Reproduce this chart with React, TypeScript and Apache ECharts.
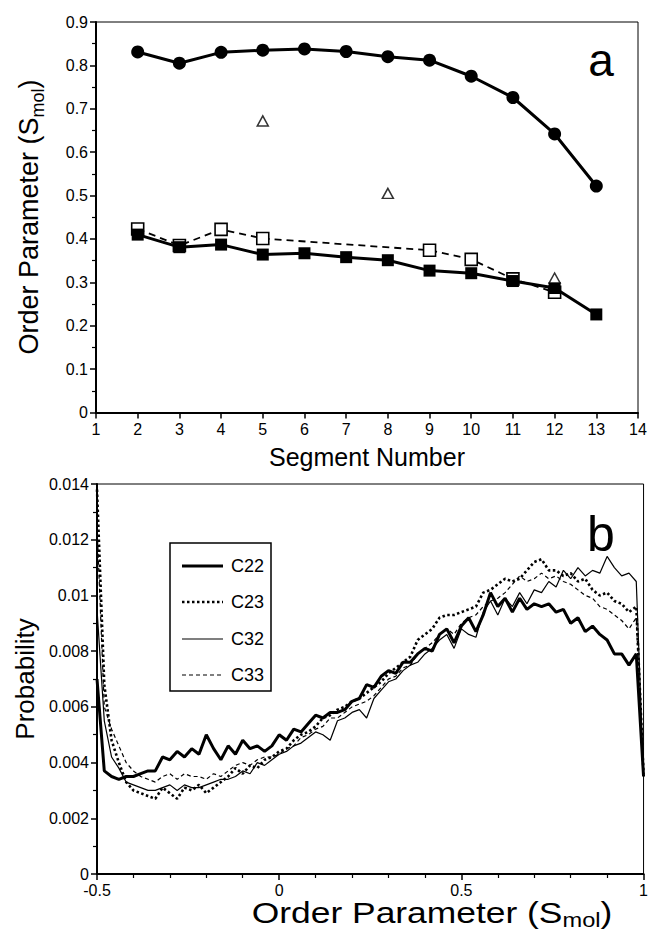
import React, { useEffect, useRef } from "react";
import * as echarts from "echarts";

const FONT = "Liberation Sans, Arial, Helvetica, sans-serif";

// ---- Panel a data ----
const segmentNumbers = [2, 3, 4, 5, 6, 7, 8, 9, 10, 11, 12, 13];
const circleValues = [0.831, 0.805, 0.83, 0.835, 0.838, 0.832, 0.82, 0.812, 0.775, 0.726, 0.642, 0.522];
const filledSquareValues = [0.41, 0.381, 0.387, 0.364, 0.367, 0.358, 0.351, 0.327, 0.321, 0.303, 0.287, 0.226];
const openSquareValues = [0.423, 0.385, 0.422, 0.401, null, null, null, 0.374, 0.353, 0.308, 0.277, null];
const triangleSegments = [5, 8, 12];
const triangleValues = [0.672, 0.505, 0.31];

// ---- Panel b data (probability, in units of 1e-3) ----
const orderBins = [
  -0.5, -0.48, -0.46, -0.44, -0.42, -0.4, -0.38, -0.36, -0.34, -0.32,
  -0.3, -0.28, -0.26, -0.24, -0.22, -0.2, -0.18, -0.16, -0.14, -0.12,
  -0.1, -0.08, -0.06, -0.04, -0.02, 0, 0.02, 0.04, 0.06, 0.08,
  0.1, 0.12, 0.14, 0.16, 0.18, 0.2, 0.22, 0.24, 0.26, 0.28,
  0.3, 0.32, 0.34, 0.36, 0.38, 0.4, 0.42, 0.44, 0.46, 0.48,
  0.5, 0.52, 0.54, 0.56, 0.58, 0.6, 0.62, 0.64, 0.66, 0.68,
  0.7, 0.72, 0.74, 0.76, 0.78, 0.8, 0.82, 0.84, 0.86, 0.88,
  0.9, 0.92, 0.94, 0.96, 0.98, 1.0,
];
const c22 = [
  7.0, 3.7, 3.5, 3.4, 3.5, 3.5, 3.6, 3.7, 3.7, 4.2,
  4.1, 4.4, 4.2, 4.5, 4.3, 5.0, 4.5, 4.1, 4.6, 4.3,
  4.8, 4.5, 4.6, 4.4, 4.6, 5.0, 4.8, 5.2, 5.1, 5.4,
  5.7, 5.6, 5.8, 5.8, 5.9, 6.2, 6.3, 6.8, 6.7, 7.1,
  7.3, 7.2, 7.6, 7.6, 7.9, 8.1, 8.0, 8.6, 8.8, 8.3,
  8.9, 9.2, 8.7, 9.3, 10.1, 9.6, 9.9, 9.4, 9.9, 9.5,
  9.7, 9.6, 9.7, 9.4, 9.5, 9.0, 9.2, 8.7, 8.9, 8.6,
  8.4, 7.9, 7.9, 7.5, 7.9, 3.5,
];
const c23 = [
  13.8, 6.8, 4.8, 4.0, 3.3, 3.0, 2.9, 2.8, 2.7, 3.1,
  2.9, 2.7, 3.1, 3.0, 3.2, 2.9, 3.1, 3.3, 3.5, 3.8,
  3.6, 3.9, 3.8, 4.1, 4.2, 4.4, 4.5, 4.8, 5.0, 5.1,
  5.3, 5.6, 5.7, 5.9, 6.0, 6.2, 6.3, 6.5, 6.7, 6.9,
  7.2, 7.4, 7.6, 7.8, 8.4, 8.6, 8.8, 9.2, 9.3, 9.3,
  9.4, 9.5, 9.6, 10.1, 10.2, 10.4, 10.6, 10.5, 10.6, 10.9,
  11.2, 11.3, 10.9, 10.9, 10.7, 10.8, 10.5, 10.6, 10.2, 10.0,
  10.1, 9.8, 9.7, 9.4, 9.6, 3.6,
];
const c32 = [
  9.5, 5.5, 4.2, 3.8, 3.3, 3.2, 3.1, 3.0, 3.0, 3.1,
  3.2, 3.0, 3.2, 3.1, 3.1, 3.2, 3.3, 3.4, 3.4, 3.5,
  3.7, 3.6, 4.0, 3.9, 4.1, 4.3, 4.4, 4.6, 4.7, 4.9,
  5.1, 5.0, 4.8, 5.5, 5.6, 5.8, 5.9, 5.6, 6.3, 6.6,
  6.9, 7.0, 7.3, 7.5, 7.6, 7.9, 8.1, 8.4, 8.6, 8.1,
  8.8, 8.6, 8.5, 9.4, 9.8, 9.3, 9.9, 9.6, 10.1, 9.7,
  10.2, 10.1, 10.5, 10.3, 10.9, 10.6, 11.0, 10.7, 10.9, 10.8,
  11.4, 11.0, 10.7, 10.8, 10.5, 3.5,
];
const c33 = [
  12.5, 6.0, 5.2, 4.6, 4.0, 3.7, 3.5, 3.4, 3.3, 3.5,
  3.6, 3.4, 3.6, 3.5, 3.5, 3.4, 3.6, 3.5, 3.7, 3.9,
  4.0, 3.9, 4.1, 4.2, 4.2, 4.3, 4.5, 4.6, 4.9, 5.0,
  5.2, 5.3, 5.6, 5.6, 5.8, 6.0, 6.1, 6.2, 6.4, 6.7,
  7.0, 7.1, 7.4, 7.5, 7.9, 8.1, 8.3, 8.6, 8.8, 8.6,
  9.0, 9.2, 9.3, 9.6, 9.8, 9.9, 10.1, 10.4, 10.7, 10.5,
  10.6, 10.8, 10.6, 10.7, 10.5, 10.4, 10.2, 10.0, 9.9, 9.6,
  9.5, 9.3, 9.1, 8.8, 9.2, 3.6,
];
const curveNames = ["C22", "C23", "C32", "C33"];

const curveStyles = [
  { width: 3, type: "solid" as any },
  { width: 2.6, type: [2.5, 2.5] as any },
  { width: 1.2, type: "solid" as any },
  { width: 1.2, type: [4, 3] as any },
];

const axisCommon = {
  axisLine: { show: true, onZero: false, lineStyle: { color: "#000", width: 2 } },
  axisTick: { show: true, inside: false, length: 6, lineStyle: { color: "#000", width: 1.5 } },
  minorTick: { show: false },
  splitLine: { show: false },
  axisLabel: { color: "#000", fontSize: 16, fontFamily: FONT },
};

function pairs(xs: number[], ys: (number | null)[], scale = 1) {
  return xs.map((x, i) => [x, ys[i] == null ? null : (ys[i] as number) * scale]);
}

export default function App() {
  const ref = useRef<HTMLDivElement>(null);
  useEffect(() => {
    const chart = echarts.init(ref.current!, null, { renderer: "svg" });
    const curves = [c22, c23, c32, c33];
    const legendTop = 543;
    const legendYs = [566, 602, 639, 675];

    const option: any = {
      animation: false,
      backgroundColor: "#fff",
      textStyle: { fontFamily: FONT },
      grid: [
        { left: 96, top: 22, width: 542, height: 390.5, show: true, borderColor: "#000", borderWidth: 1, backgroundColor: "transparent" },
        { left: 97, top: 484, width: 548, height: 390, show: true, borderColor: "#000", borderWidth: 1, backgroundColor: "transparent" },
      ],
      xAxis: [
        {
          ...axisCommon,
          gridIndex: 0,
          type: "value",
          min: 1,
          max: 14,
          interval: 1,
          axisLabel: { ...axisCommon.axisLabel, margin: 9 },
        },
        {
          ...axisCommon,
          gridIndex: 1,
          type: "value",
          min: -0.5,
          max: 1,
          interval: 0.5,
          minorTick: { show: true, splitNumber: 5, length: 4, lineStyle: { color: "#000", width: 1.2 } },
          axisLabel: { ...axisCommon.axisLabel, margin: 8 },
        },
      ],
      yAxis: [
        {
          ...axisCommon,
          gridIndex: 0,
          type: "value",
          min: 0,
          max: 0.9,
          interval: 0.1,
          minorTick: { show: true, splitNumber: 2, length: 4, lineStyle: { color: "#000", width: 1.2 } },
          axisLabel: { ...axisCommon.axisLabel, margin: 8 },
        },
        {
          ...axisCommon,
          gridIndex: 1,
          type: "value",
          min: 0,
          max: 0.014,
          interval: 0.002,
          minorTick: { show: true, splitNumber: 2, length: 4, lineStyle: { color: "#000", width: 1.2 } },
          axisLabel: { ...axisCommon.axisLabel, margin: 8 },
        },
      ],
      series: [
        {
          type: "line",
          xAxisIndex: 0,
          yAxisIndex: 0,
          data: pairs(segmentNumbers, openSquareValues),
          connectNulls: true,
          symbol: "rect",
          symbolSize: 12,
          lineStyle: { color: "#000", width: 1.8, type: [7, 5] },
          itemStyle: { color: "#fff", borderColor: "#000", borderWidth: 1.6 },
          z: 2,
        },
        {
          type: "line",
          xAxisIndex: 0,
          yAxisIndex: 0,
          data: pairs(segmentNumbers, filledSquareValues),
          symbol: "rect",
          symbolSize: 12,
          lineStyle: { color: "#000", width: 3 },
          itemStyle: { color: "#000" },
          z: 3,
        },
        {
          type: "line",
          xAxisIndex: 0,
          yAxisIndex: 0,
          data: pairs(segmentNumbers, circleValues),
          symbol: "circle",
          symbolSize: 13,
          lineStyle: { color: "#000", width: 3 },
          itemStyle: { color: "#000" },
          z: 3,
        },
        {
          type: "scatter",
          xAxisIndex: 0,
          yAxisIndex: 0,
          data: pairs(triangleSegments, triangleValues),
          symbol: "triangle",
          symbolSize: [11, 10],
          itemStyle: { color: "#fff", borderColor: "#000", borderWidth: 1.5 },
          z: 4,
        },
        ...curves.map((c, k) => ({
          type: "line",
          name: curveNames[k],
          xAxisIndex: 1,
          yAxisIndex: 1,
          data: pairs(orderBins, c, 0.001),
          showSymbol: false,
          symbol: "none",
          lineStyle: { color: "#000", width: curveStyles[k].width, type: curveStyles[k].type },
          z: 2 + k,
        })),
      ],
      graphic: [
        // panel labels
        { type: "text", x: 601, y: 60, z: 10, style: { text: "a", fontSize: 46, fontFamily: FONT, fill: "#000", align: "center", verticalAlign: "middle" } },
        { type: "text", x: 601, y: 534, z: 10, style: { text: "b", fontSize: 50, fontFamily: FONT, fill: "#000", align: "center", verticalAlign: "middle" } },
        // axis titles
        { type: "text", x: 367, y: 457, style: { text: "Segment Number", fontSize: 25, fontFamily: FONT, fill: "#000", align: "center", verticalAlign: "middle" } },
        {
          type: "text",
          x: 31,
          y: 217,
          rotation: Math.PI / 2,
          style: {
            text: "{n|Order Parameter (S}{s|mol}{n|)}",
            align: "center",
            verticalAlign: "middle",
            fill: "#000",
            rich: {
              n: { fontSize: 27, fontFamily: FONT, fill: "#000", padding: [0, 0, 4, 0] },
              s: { fontSize: 18, fontFamily: FONT, fill: "#000", verticalAlign: "bottom" },
            },
          },
        },
        { type: "text", x: 25, y: 679, rotation: Math.PI / 2, style: { text: "Probability", fontSize: 26, fontFamily: FONT, fill: "#000", align: "center", verticalAlign: "middle" } },
        {
          type: "text",
          x: 432,
          y: 914,
          scaleX: 1.18,
          style: {
            text: "{n|Order Parameter (S}{s|mol}{n|)}",
            align: "center",
            verticalAlign: "middle",
            fill: "#000",
            rich: {
              n: { fontSize: 30, fontFamily: FONT, fill: "#000", padding: [0, 0, 3, 0] },
              s: { fontSize: 20, fontFamily: FONT, fill: "#000", verticalAlign: "bottom" },
            },
          },
        },
        // legend box
        { type: "rect", z: 20, shape: { x: 170, y: legendTop, width: 101, height: 148 }, style: { fill: "#fff", stroke: "#000", lineWidth: 1.5 } },
        ...curveNames.flatMap((nm, k) => [
          {
            type: "line",
            z: 21,
            shape: { x1: 182, y1: legendYs[k], x2: 223, y2: legendYs[k] },
            style: {
              stroke: "#000",
              lineWidth: curveStyles[k].width,
              lineDash: Array.isArray(curveStyles[k].type) ? curveStyles[k].type : null,
            },
          },
          {
            type: "text",
            z: 21,
            x: 231,
            y: legendYs[k],
            style: { text: nm, fontSize: 18, fontFamily: FONT, fill: "#000", align: "left", verticalAlign: "middle" },
          },
        ]),
      ],
    };
    chart.setOption(option);
    return () => chart.dispose();
  }, []);
  return (
    <div
      ref={ref}
      style={{ position: "fixed", left: 0, top: 0, width: 651, height: 932, background: "#fff" }}
    />
  );
}
